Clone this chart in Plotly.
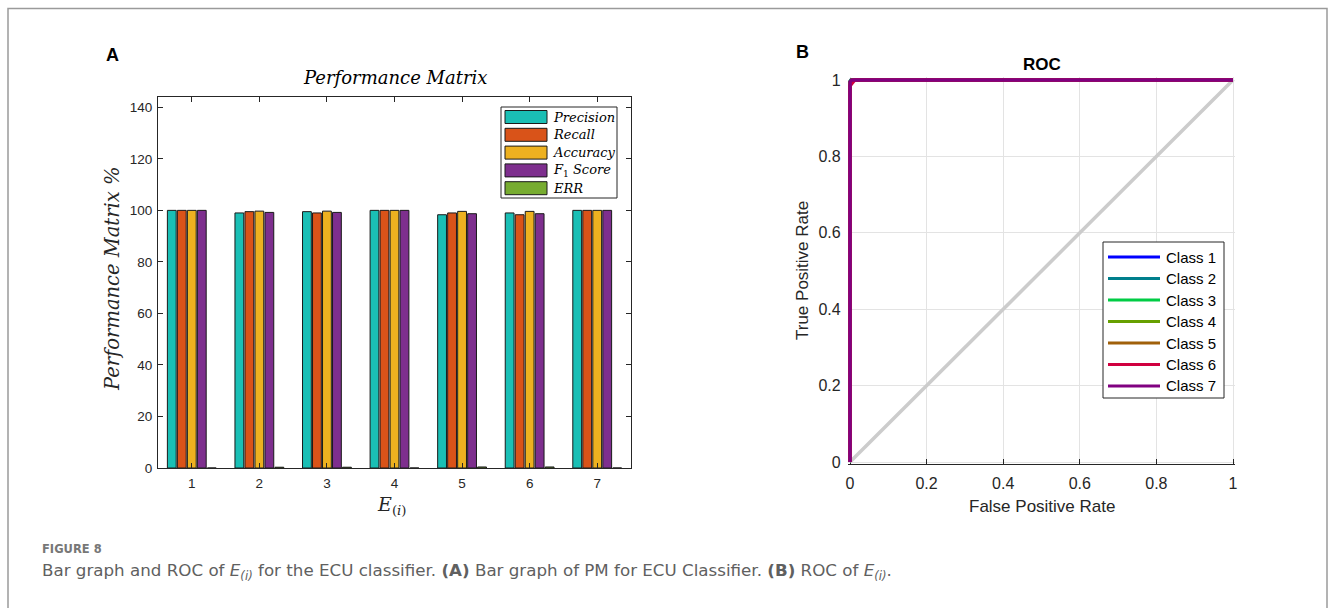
import plotly.graph_objects as go

W, H = 1336, 608

# ---------------- data ----------------
categories = [1, 2, 3, 4, 5, 6, 7]
series_names = ["Precision", "Recall", "Accuracy", "F<sub>1</sub> Score", "ERR"]
precision = [100, 99.0, 99.5, 100, 98.3, 99.0, 100]
recall = [100, 99.5, 99.0, 100, 99.0, 98.3, 100]
accuracy = [100, 99.7, 99.7, 100, 99.6, 99.6, 100]
f1_score = [100, 99.2, 99.2, 100, 98.7, 98.7, 100]
err = [0, 0.3, 0.3, 0, 0.4, 0.4, 0]
bar_colors = ["#1ABFB5", "#D95319", "#EDB120", "#7E2F8E", "#77AC30"]

class_names = ["Class 1", "Class 2", "Class 3", "Class 4", "Class 5", "Class 6", "Class 7"]
class_colors = ["#0000FF", "#007F8C", "#00CC44", "#66A000", "#A0600A", "#D0003F", "#800080"]
roc_fpr = [
    [0, 0, 0.003, 1],
    [0, 0, 0.004, 1],
    [0, 0, 0.003, 1],
    [0, 0, 0.004, 1],
    [0, 0, 0.005, 1],
    [0, 0, 0.004, 0.012, 1],
    [0, 0, 0.004, 1],
]
roc_tpr = [
    [0, 0.995, 1, 1],
    [0, 0.993, 1, 1],
    [0, 0.996, 1, 1],
    [0, 0.994, 1, 1],
    [0, 0.992, 1, 1],
    [0, 0.985, 0.99, 1, 1],
    [0, 0.995, 1, 1],
]
chance_x = [0, 1]
chance_y = [0, 1]

x_ticks = [1, 2, 3, 4, 5, 6, 7]
y_ticks_a = [0, 20, 40, 60, 80, 100, 120, 140]
roc_ticks = [0, 0.2, 0.4, 0.6, 0.8, 1]


def px(x):
    return x / W


def py(y):
    return 1 - y / H


fig = go.Figure()

values = [precision, recall, accuracy, f1_score, err]
for name, vals, col in zip(series_names, values, bar_colors):
    fig.add_trace(go.Bar(
        x=categories, y=vals, name=name, marker_color=col,
        marker_line_color="#1a1a1a", marker_line_width=1,
        xaxis="x", yaxis="y", showlegend=False,
    ))

fig.add_trace(go.Scatter(
    x=chance_x, y=chance_y, mode="lines",
    line=dict(color="#CCCCCC", width=3.5),
    xaxis="x2", yaxis="y2", showlegend=False, hoverinfo="skip",
))
for name, fx, ty, col in zip(class_names, roc_fpr, roc_tpr, class_colors):
    fig.add_trace(go.Scatter(
        x=fx, y=ty, mode="lines", name=name,
        line=dict(color=col, width=3.5),
        xaxis="x2", yaxis="y2", showlegend=False,
    ))

axis_font = dict(family="Liberation Sans, Arial, sans-serif", color="#262626")

shapes = []
annotations = []


def note(x, y, text, size, family, color="black", xanchor="center", angle=0):
    annotations.append(dict(xref="paper", yref="paper", x=px(x), y=py(y), text=text,
                            xanchor=xanchor, yanchor="middle", showarrow=False, textangle=angle,
                            font=dict(family=family, size=size, color=color)))


# frame around the whole figure
shapes.append(dict(type="rect", xref="paper", yref="paper",
                   x0=px(8), x1=px(1327), y0=py(620), y1=py(8.5),
                   line=dict(color="#9A9A9A", width=1.5), layer="below"))

# ---- custom legend for panel A ----
shapes.append(dict(type="rect", xref="paper", yref="paper",
                   x0=px(501), x1=px(617), y0=py(198), y1=py(107),
                   line=dict(color="#262626", width=1), fillcolor="white", layer="above"))
for i, (name, col) in enumerate(zip(series_names, bar_colors)):
    yc = 117 + i * 17.8
    shapes.append(dict(type="rect", xref="paper", yref="paper",
                       x0=px(505), x1=px(547), y0=py(yc + 6.5), y1=py(yc - 6.5),
                       line=dict(color="#1a1a1a", width=1), fillcolor=col, layer="above"))
    note(551, yc, "<i>" + name.replace("<sub>1</sub>", "</i><sub>1</sub><i>") + "</i>",
         13, "DejaVu Serif, serif", xanchor="left")

# ---- custom legend for panel B ----
shapes.append(dict(type="rect", xref="paper", yref="paper",
                   x0=px(1103), x1=px(1224), y0=py(398), y1=py(242),
                   line=dict(color="#262626", width=1), fillcolor="white", layer="above"))
for i, (name, col) in enumerate(zip(class_names, class_colors)):
    yc = 257 + i * 21.5
    shapes.append(dict(type="line", xref="paper", yref="paper",
                       x0=px(1108), x1=px(1160), y0=py(yc), y1=py(yc),
                       line=dict(color=col, width=3), layer="above"))
    note(1164, yc, name, 15, "Liberation Sans, Arial, sans-serif", xanchor="left")

# ---- titles and labels ----
serif = "DejaVu Serif, serif"
sans = "Liberation Sans, Arial, sans-serif"
note(112, 55, "<b>A</b>", 18, sans)
note(802, 52, "<b>B</b>", 18, sans)
note(395, 78, "<i>Performance Matrix</i>", 18, serif)
note(113, 279, "<i>Performance Matrix %</i>", 19.5, serif, color="#262626", angle=-90)
note(392, 505, "<i>E</i><sub>(<i>i</i>)</sub>", 19, serif, color="#262626")
note(1042, 64, "<b>ROC</b>", 17, sans)
note(1042, 506, "False Positive Rate", 17, sans, color="#262626")
note(802, 271, "True Positive Rate", 17, sans, color="#262626", angle=-90)
note(40, 549, "<b>FIGURE 8</b>", 11.5, "DejaVu Sans, sans-serif", color="#777777", xanchor="left")
note(40, 571,
     "Bar graph and ROC of <i>E</i><sub><i>(i)</i></sub> for the ECU classifier. "
     "<b>(A)</b> Bar graph of PM for ECU Classifier. <b>(B)</b> ROC of <i>E</i><sub><i>(i)</i></sub>.",
     16.7, "DejaVu Sans, sans-serif", color="#606060", xanchor="left")

fig.update_layout(
    width=W, height=H,
    margin=dict(l=0, r=0, t=0, b=0, autoexpand=False),
    paper_bgcolor="white", plot_bgcolor="white",
    barmode="group", bargap=0.26, bargroupgap=0.12,
    shapes=shapes, annotations=annotations,
    xaxis=dict(domain=[px(158), px(631)], range=[0.5, 7.5], tickvals=x_ticks,
               ticks="inside", ticklen=5, tickcolor="#262626", showline=True, linecolor="#262626",
               linewidth=1, mirror="ticks", showgrid=False, zeroline=False, ticklabelstandoff=3,
               tickfont=dict(size=13.5, **axis_font), anchor="y", automargin=False),
    yaxis=dict(domain=[py(468), py(97)], range=[0, 144], tickvals=y_ticks_a,
               ticks="inside", ticklen=5, tickcolor="#262626", showline=True, linecolor="#262626",
               linewidth=1, mirror="ticks", showgrid=False, zeroline=False, ticklabelstandoff=2,
               tickfont=dict(size=13.5, **axis_font), anchor="x", automargin=False),
    xaxis2=dict(domain=[px(847.7), px(1235.3)], range=[-0.006, 1.006], tickvals=roc_ticks,
                ticks="inside", ticklen=5, tickcolor="#262626", showline=True, linecolor="#262626",
                linewidth=1, showgrid=True, gridcolor="#E3E3E3", zeroline=False, ticklabelstandoff=4,
                tickfont=dict(size=16, **axis_font), anchor="y2", layer="below traces",
                automargin=False),
    yaxis2=dict(domain=[py(464.3), py(77)], range=[-0.006, 1.008], tickvals=roc_ticks,
                ticks="", showline=False, showgrid=True, gridcolor="#E3E3E3", zeroline=False,
                ticklabelstandoff=6, tickfont=dict(size=16, **axis_font), anchor="x2",
                layer="below traces", automargin=False),
)

fig.write_html("out.html", config={"displayModeBar": False},
               post_script="document.body.style.margin='0';document.body.style.overflow='hidden';")
